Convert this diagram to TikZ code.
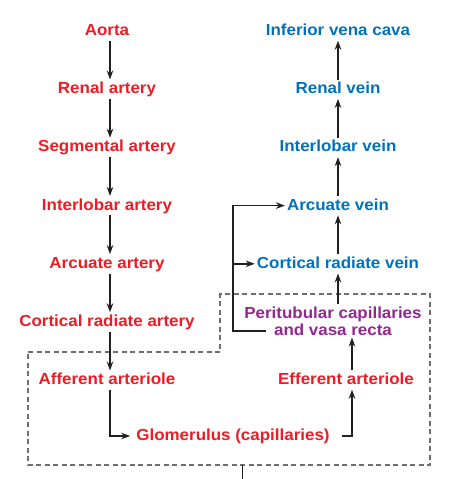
\documentclass[tikz,border=0pt]{standalone}
\usepackage{fontspec}
\setmainfont{Liberation Sans}[FakeStretch=1.06]
\usepackage{tikz}
\usetikzlibrary{arrows,arrows.meta,positioning}
\definecolor{artred}{HTML}{ED1C24}
\definecolor{veinblue}{HTML}{0072BC}
\definecolor{capviolet}{HTML}{92278F}
\definecolor{arrgray}{HTML}{231F20}
\definecolor{boxgray}{HTML}{6D6E71}

\begin{document}
\begin{tikzpicture}[
        x=1pt, y=-1pt, node distance=58.2pt, on grid,
        font=\fontsize{16}{17}\selectfont\bfseries,
        lbl/.style={inner sep=2pt, text height=12pt, text depth=3pt},
        artery/.style={lbl, text=artred},
        vein/.style={lbl, text=veinblue},
        capnode/.style={inner sep=2pt, align=center, text=capviolet},
        arr/.style={->, >={Stealth[length=9pt, width=6.5pt]}, line width=1.6pt, draw=arrgray},
        region/.style={draw=boxgray, line width=1.2pt, dash pattern=on 5pt off 3.5pt}
    ]
        \useasboundingbox (0,0) rectangle (450,479);
        % arteries
        \node[artery] (aorta) at (107,31) {Aorta};
        \node[artery, below=of aorta] (renA) {Renal artery};
        \node[artery, below=of renA] (segA) {Segmental artery};
        \node[artery, below=of segA] (ilobA) {Interlobar artery};
        \node[artery, below=of ilobA] (arcA) {Arcuate artery};
        \node[artery, below=of arcA] (crA) {Cortical radiate artery};
        \node[artery, below=of crA] (aff) {Afferent arteriole};
        \node[artery] (glom) at (233,436) {Glomerulus (capillaries)};
        \node[artery] (eff) at (346,380) {Efferent arteriole};
        % veins
        \node[vein] (ivc) at (338,31) {Inferior vena cava};
        \node[vein, below=of ivc] (renV) {Renal vein};
        \node[vein, below=of renV] (ilobV) {Interlobar vein};
        \node[vein, below=of ilobV] (arcV) {Arcuate vein};
        \node[vein, below=of arcV] (crV) {Cortical radiate vein};
        \node[capnode] (peri) at (333,321) {Peritubular capillaries\\and vasa recta};
        \coordinate (ret) at (266,331);
        \coordinate (bend) at (233,331);

        \draw[region] (28,352) -- (220,352) -- (220,294) -- (430,294) -- (430,465) -- (28,465) -- cycle;
        \draw[arrgray, line width=1pt] (242,465) -- (242,479);

        \draw[arr] ([xshift=3pt]aorta.south) -- ([xshift=3pt]renA.north);
        \draw[arr] ([xshift=3pt]renA.south) -- ([xshift=3pt]segA.north);
        \draw[arr] ([xshift=3pt]segA.south) -- ([xshift=3pt]ilobA.north);
        \draw[arr] ([xshift=3pt]ilobA.south) -- ([xshift=3pt]arcA.north);
        \draw[arr] ([xshift=3pt]arcA.south) -- ([xshift=3pt]crA.north);
        \draw[arr] ([xshift=3pt]crA.south) -- ([xshift=3pt]aff.north);
        \draw[arr, shorten >=4pt] ([xshift=3pt]aff.south) |- (glom.west);
        \draw[arr, shorten <=10pt] (glom.east) -| ([xshift=6pt]eff.south);
        \draw[arr] ([xshift=6pt]eff.north) -- ([xshift=6pt]eff.north |- peri.south);
        \draw[arr] (crV.south |- peri.north) -- (crV.south);
        \draw[arr] (crV) -- (arcV);
        \draw[arr] (arcV) -- (ilobV);
        \draw[arr] (ilobV) -- (renV);
        \draw[arr] (renV) -- (ivc);
        \draw[arr] (ret) -- (bend) |- (arcV.west);
        \draw[arr] (bend |- crV.west) -- (crV.west);
    \end{tikzpicture}
\end{document}
